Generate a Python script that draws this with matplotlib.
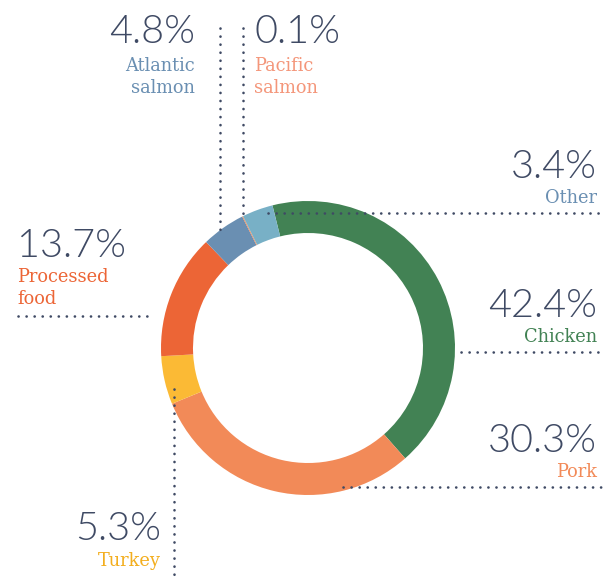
import matplotlib
matplotlib.use('Agg')
import matplotlib.pyplot as plt

# Data
categories = ['Chicken', 'Pork', 'Turkey', 'Processed\nfood', 'Atlantic\nsalmon', 'Pacific\nsalmon', 'Other']
shares = [42.4, 30.3, 5.3, 13.7, 4.8, 0.1, 3.4]
wedge_colors = ['#428254', '#F28A58', '#FBBA35', '#EC6536', '#6A8FB2', '#F28A58', '#78B0C6']
label_colors = ['#428254', '#F28A58', '#F3AE1E', '#EC6536', '#6A8FB2', '#F4967A', '#6A8FB2']

W, H = 605, 581
DARK = '#3F4A64'
NUM_FONT = ['Lato', 'DejaVu Sans']
LBL_FONT = ['DejaVu Serif']

fig = plt.figure(figsize=(W / 100, H / 100), dpi=100)
ax = fig.add_axes([0, 0, 1, 1])

# donut (pixel coordinates, y flipped)
cx, cy, R = 308, H - 348, 147
ax.pie(shares, colors=wedge_colors, startangle=104, counterclock=False,
       radius=R, center=(cx, cy),
       wedgeprops=dict(width=32, edgecolor='none', linewidth=0))

ax.set_xlim(0, W)
ax.set_ylim(0, H)
ax.set_aspect('auto')
ax.axis('off')


def dotted(xs, ys):
    ax.plot(xs, [H - y for y in ys], color=DARK, lw=1.9,
            linestyle=(0, (0.05, 3.0)), dash_capstyle='round', zorder=5)


def label(x, y_num, y_lbl, i, ha):
    ax.text(x, H - y_num, f'{shares[i]}%', ha=ha, va='baseline', fontsize=28.5,
            family=NUM_FONT, fontweight=300, color=DARK)
    ax.text(x, H - y_lbl, categories[i], ha=ha, va='top', fontsize=12.8,
            family=LBL_FONT, color=label_colors[i], linespacing=1.3)


# leader lines
dotted([220, 220], [28, 231])          # Atlantic salmon
dotted([243, 243], [28, 215])          # Pacific salmon
dotted([268, 605], [213, 213])         # Other
dotted([461, 605], [352, 352])         # Chicken
dotted([343, 605], [487, 487])         # Pork
dotted([18, 153], [316, 316])          # Processed food
dotted([174, 174], [389, 581])         # Turkey

# labels
label(195, 43, 57, 4, 'right')         # Atlantic salmon
label(254, 43, 57, 5, 'left')
label(597, 178, 189, 6, 'right')       # Other
label(597, 317, 328, 0, 'right')       # Chicken
label(597, 452, 463, 1, 'right')       # Pork
label(17, 257, 268, 3, 'left')         # Processed food
label(161, 540, 552, 2, 'right')       # Turkey

fig.savefig('out.png', dpi=100)
